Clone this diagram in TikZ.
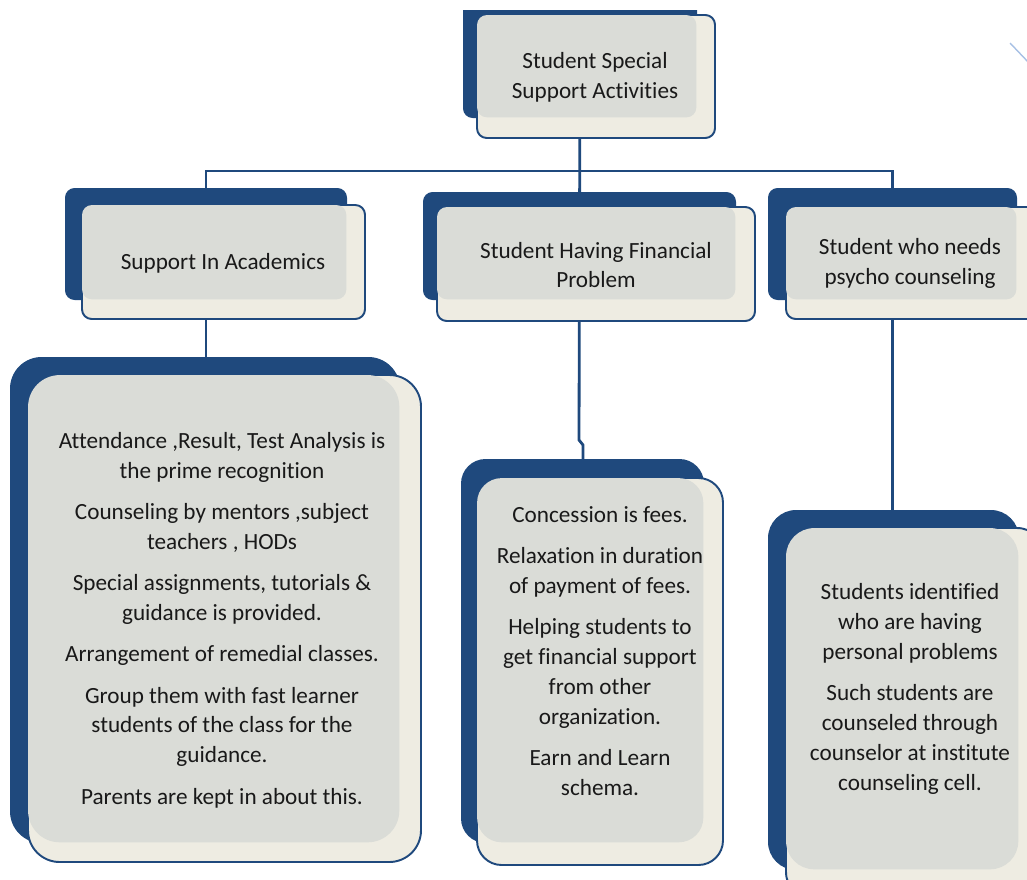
\documentclass[tikz,border=0pt]{standalone}
\usepackage{fontspec}
\setmainfont{Carlito}[Ligatures=NoCommon]
\usetikzlibrary{fit,backgrounds}
\definecolor{navy}{HTML}{1F497D}
\definecolor{cream}{HTML}{EEECE2}
\definecolor{panel}{HTML}{DADCD7}
\definecolor{stray}{HTML}{A7C0E4}
\begin{document}
\begin{tikzpicture}[
  x=0.02cm, y=-0.02cm,
  every node/.style={font=\fontsize{13.2}{17}\selectfont, text=black!90},
  back/.style={fill=navy, inner sep=0pt},
  front/.style={fill=cream, draw=navy, line width=1.1pt, inner sep=0pt},
  panelbox/.style={fill=panel, inner sep=-0.6pt},
  link/.style={draw=navy, line width=1.6pt},
  txt/.style={align=center, inner sep=0pt}
]
  \useasboundingbox (0,0) rectangle (1027,879);
  \clip (0,10) rectangle (1027,879);
  % frames: name / back corners / front corners / radius
  \foreach \n/\bx/\by/\bX/\bY/\fx/\fy/\fX/\fY/\r in {
    top/463/-20/697/118/477/15/715/138/5.5pt,
    acad/65/188/347/300/82/205/365/319/5.5pt,
    fin/423/192/736/300/437/207/755/321/5.5pt,
    psy/768/188/1017/300/786/207/1045/319/5.5pt,
    acadlist/10/357/400/843/28/375/421/862/18pt,
    finlist/461/459/704/843/477/478/723/865/14pt,
    psylist/768/510/1019/870/786/528/1045/900/16pt}
  {
    \node[back, rounded corners=\r, fit={(\bx,\by) (\bX,\bY)}] (\n B) {};
    \node[front, rounded corners=\r, fit={(\fx,\fy) (\fX,\fY)}] (\n F) {};
    \node[panelbox, rounded corners=\r, fit={(\n F.north west) (\n B.south east)}] (\n G) {};
  }

  \node[txt] (topT) at (595,77.5) {Student Special\\Support Activities};
  \node[txt] (acadT) at (223,263) {Support In Academics};
  \node[txt] (finT) at (596,265) {Student Having Financial\\Problem};
  \node[txt] (psyT) at (910,263.5) {Student who needs\\psycho counseling};

  \node[txt] (acadlistT) at (222,620) {Attendance ,Result, Test Analysis is\\the prime recognition\\[6.5pt]
    Counseling by mentors ,subject\\teachers , HODs\\[6.5pt]
    Special assignments, tutorials \&\\guidance is provided.\\[6.5pt]
    Arrangement of remedial classes.\\[6.5pt]
    Group them with fast learner\\students of the class for the\\guidance.\\[6.5pt]
    Parents are kept in about this.};
  \node[txt] (finlistT) at (600,651) {Concession is fees.\\[6.5pt]
    Relaxation in duration\\of payment of fees.\\[6.5pt]
    Helping students to\\get financial support\\from other\\organization.\\[6.5pt]
    Earn and Learn\\schema.};
  \node[txt] (psylistT) at (910,689) {Students identified\\who are having\\personal problems\\[6.5pt]
    Such students are\\counseled through\\counselor at institute\\counseling cell.};

  \coordinate (s1) at (1010,43);
  \coordinate (s2) at (1030,64);
  \draw[stray, line width=0.8pt] (s1) -- (s2);

  \begin{scope}[on background layer]
    \coordinate (bus) at (580,171);
    \coordinate (jog) at (579,440);
    \draw[link] (topB.center) -- (finB.center);
    \draw[link] (acadB.center) |- (bus) -| (psyB.center);
    \draw[link] (acadB.center) -- (acadB.center |- acadlistB.center);
    \draw[link] (finB.center) -- (jog) -- ++(4,5) -- (finlistB.center);
    \draw[link] (psyB.center) -- (psyB.center |- psylistB.center);
  \end{scope}
\end{tikzpicture}
\end{document}
